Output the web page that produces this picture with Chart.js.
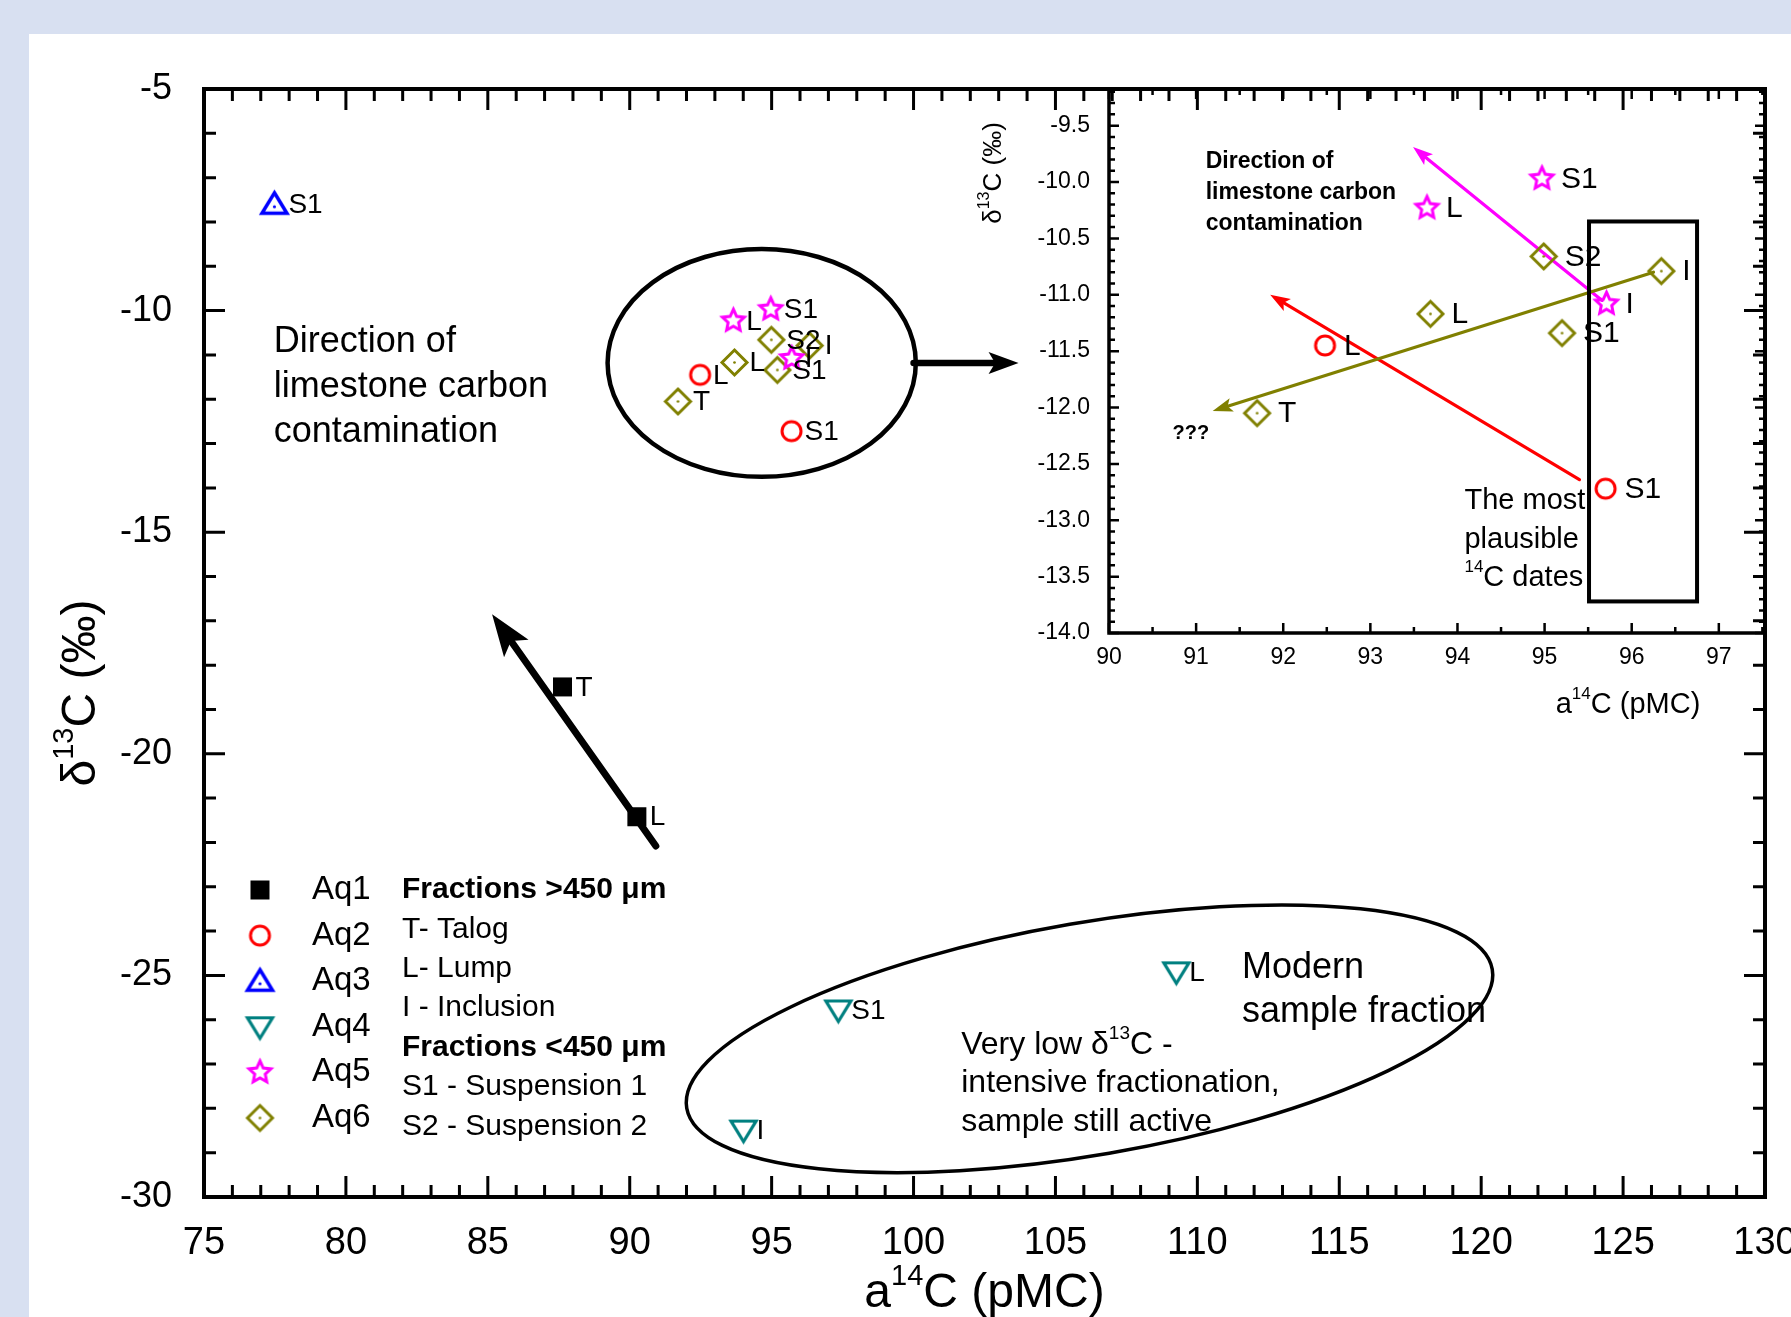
<!DOCTYPE html>
<html><head><meta charset="utf-8">
<script src="https://cdn.jsdelivr.net/npm/chart.js@4.4.0/dist/chart.umd.min.js"></script>
<style>
html,body{margin:0;padding:0;background:#d8e0f1;width:1791px;height:1317px;overflow:hidden;position:relative}
#panel{position:absolute;left:29px;top:34px;right:0;bottom:0;background:#fff}
#main{position:absolute;left:0;top:0}
#inset{position:absolute;left:900px;top:0}
</style></head><body>
<div id="panel"></div>
<canvas id="main" width="1791" height="1317" style="width:1791px;height:1317px"></canvas>
<canvas id="inset" width="891" height="760" style="width:891px;height:760px"></canvas>
<script>
// ---------------- DATA ----------------
const seriesNames = ['Aq1', 'Aq2', 'Aq3', 'Aq4', 'Aq5', 'Aq6'];
const seriesColors = ['#000000', '#ff0000', '#0000ff', '#008080', '#ff00ff', '#808000'];

const aq1X = [87.63, 90.25];                    const aq1Y = [-18.49, -21.42];                    const aq1Lab = ['T', 'L'];
const aq2X = [92.48, 95.70];                    const aq2Y = [-11.45, -12.72];                    const aq2Lab = ['L', 'S1'];
const aq3X = [77.48];                           const aq3Y = [-7.60];                             const aq3Lab = ['S1'];
const aq4X = [109.26, 97.35, 94.01];            const aq4Y = [-24.92, -25.78, -28.49];            const aq4Lab = ['L', 'S1', 'I'];
const aq5X = [94.97, 93.65, 95.71];             const aq5Y = [-9.97, -10.23, -11.08];             const aq5Lab = ['S1', 'L', 'I'];
const aq6X = [94.99, 96.34, 93.69, 95.20, 91.70]; const aq6Y = [-10.66, -10.79, -11.17, -11.34, -12.05]; const aq6Lab = ['S2', 'I', 'L', 'S1', 'T'];

const legendNotes = [
  ['Fractions >450 μm', true], ['T- Talog', false], ['L- Lump', false], ['I - Inclusion', false],
  ['Fractions <450 μm', true], ['S1 - Suspension 1', false], ['S2 - Suspension 2', false]
];

// axis ranges / tick steps
const mainX = [75, 130], mainY = [-30, -5], mainXStep = 5, mainYStep = 5, mainMinor = 1;
const insetX = [90, 97.53], insetY = [-14, -9.175], insetXStep = 1, insetYStep = 0.5;

// annotations (data coordinates)
const mainArrowAq1 = { from: [90.92, -22.08], to: [85.15, -16.85] };
const mainArrowZoom = { from: [100.0, -11.18], to: [103.7, -11.18] };
const clusterEllipse = { cx: 94.65, cy: -11.18, rx: 5.43, ry: 2.57 };
const modernEllipse = { cx: 106.2, cy: -26.43, rx: 14.4, ry: 2.62, rotDeg: -9.78 };
const insetArrowAq5 = { from: [95.66, -11.05], to: [93.49, -9.69] };
const insetArrowAq2 = { from: [95.40, -12.64], to: [91.85, -11.00] };
const insetArrowAq6 = { from: [96.25, -10.80], to: [91.19, -12.03] };
const plausibleBox = { x0: 95.51, x1: 96.75, y0: -10.35, y1: -13.72 };

const FAM = "'Liberation Sans', Arial, Helvetica, sans-serif";

// ---------------- helpers ----------------
function markerCanvas(kind, color, s, lw) {
  const pad = Math.ceil(lw) + 2;
  const size = Math.round(s + pad * 2);
  const c = document.createElement('canvas');
  c.width = size; c.height = size;
  const g = c.getContext('2d');
  g.translate(size / 2, size / 2);
  g.strokeStyle = color; g.fillStyle = color; g.lineWidth = lw; g.lineJoin = 'miter';
  const r = s / 2;
  const dot = () => { g.beginPath(); g.arc(0, 0, Math.max(1.2, lw * 0.45), 0, Math.PI * 2); g.fill(); };
  g.beginPath();
  if (kind === 'square') { g.fillRect(-r, -r, s, s); }
  else if (kind === 'circle') { g.arc(0, 0, r, 0, Math.PI * 2); g.stroke(); }
  else if (kind === 'triUp') {
    g.moveTo(0, -0.46 * s); g.lineTo(0.5 * s, 0.36 * s); g.lineTo(-0.5 * s, 0.36 * s); g.closePath(); g.stroke();
    g.beginPath(); g.arc(0, 0.1 * s, Math.max(1.2, lw * 0.45), 0, Math.PI * 2); g.fill();
  }
  else if (kind === 'triDown') {
    g.moveTo(0, 0.46 * s); g.lineTo(0.5 * s, -0.36 * s); g.lineTo(-0.5 * s, -0.36 * s); g.closePath(); g.stroke();
  }
  else if (kind === 'star') {
    for (let i = 0; i < 10; i++) {
      const rr = i % 2 === 0 ? r : r * 0.48;
      const a = -Math.PI / 2 + i * Math.PI / 5;
      const px = rr * Math.cos(a), py = rr * Math.sin(a);
      if (i === 0) g.moveTo(px, py); else g.lineTo(px, py);
    }
    g.closePath(); g.stroke();
  }
  else if (kind === 'diamond') {
    g.moveTo(0, -r); g.lineTo(r, 0); g.lineTo(0, r); g.lineTo(-r, 0); g.closePath(); g.stroke(); dot();
  }
  return c;
}

const markerSpec = [
  ['square', 19, 3], ['circle', 19, 3], ['triUp', 25, 3.5], ['triDown', 25, 3.2], ['star', 23, 3], ['diamond', 25, 3]
];
const markers = markerSpec.map((m, i) => markerCanvas(m[0], seriesColors[i], m[1], m[2]));

function drawRich(ctx, parts, x, y, size, align, bold) {
  const w = bold ? 'bold ' : '';
  const fonts = parts.map(p => w + (p[1] ? Math.round(size * 0.6) : size) + 'px ' + FAM);
  const widths = parts.map((p, i) => { ctx.font = fonts[i]; return ctx.measureText(p[0]).width; });
  const total = widths.reduce((a, b) => a + b, 0);
  let cx = align === 'center' ? x - total / 2 : (align === 'right' ? x - total : x);
  ctx.textAlign = 'left'; ctx.textBaseline = 'middle'; ctx.fillStyle = '#000';
  parts.forEach((p, i) => {
    ctx.font = fonts[i];
    ctx.fillText(p[0], cx, p[1] ? y - size * 0.36 : y);
    cx += widths[i];
  });
}

function arrow(ctx, x1, y1, x2, y2, color, lw, hl, hw) {
  const a = Math.atan2(y2 - y1, x2 - x1);
  const ca = Math.cos(a), sa = Math.sin(a);
  const bx = x2 - hl * ca, by = y2 - hl * sa;
  ctx.save();
  ctx.strokeStyle = color; ctx.fillStyle = color; ctx.lineWidth = lw; ctx.lineCap = 'round';
  ctx.beginPath(); ctx.moveTo(x1, y1); ctx.lineTo(x2 - hl * 0.7 * ca, y2 - hl * 0.7 * sa); ctx.stroke();
  ctx.beginPath(); ctx.moveTo(x2, y2);
  ctx.lineTo(bx + hw * sa, by - hw * ca);
  ctx.lineTo(x2 - hl * 0.78 * ca, y2 - hl * 0.78 * sa);
  ctx.lineTo(bx - hw * sa, by + hw * ca);
  ctx.closePath(); ctx.fill();
  ctx.restore();
}

function toData(arrX, arrY) { return arrX.map((x, i) => ({ x: x, y: arrY[i] })); }

function tickFramePlugin(cfg) {
  return {
    id: 'tickframe_' + cfg.name,
    afterDraw(chart) {
      const ctx = chart.ctx, ca = chart.chartArea, xs = chart.scales.x, ys = chart.scales.y;
      ctx.save();
      ctx.strokeStyle = '#000'; ctx.lineCap = 'butt';
      ctx.lineWidth = cfg.tickW;
      const isMult = (v, st) => Math.abs(v / st - Math.round(v / st)) < 1e-6;
      for (let k = Math.ceil(xs.min / cfg.xMinor - 1e-9); k * cfg.xMinor <= xs.max + 1e-9; k++) {
        const v = k * cfg.xMinor, px = xs.getPixelForValue(v);
        const len = isMult(v, cfg.xMajor) ? cfg.majLen : cfg.minLen;
        ctx.beginPath();
        ctx.moveTo(px, ca.bottom); ctx.lineTo(px, ca.bottom - len);
        ctx.moveTo(px, ca.top); ctx.lineTo(px, ca.top + len);
        ctx.stroke();
      }
      for (let k = Math.ceil(ys.min / cfg.yMinor - 1e-9); k * cfg.yMinor <= ys.max + 1e-9; k++) {
        const v = k * cfg.yMinor, py = ys.getPixelForValue(v);
        const len = isMult(v, cfg.yMajor) ? cfg.majLen : cfg.minLen;
        ctx.beginPath();
        ctx.moveTo(ca.left, py); ctx.lineTo(ca.left + len, py);
        ctx.moveTo(ca.right, py); ctx.lineTo(ca.right - len, py);
        ctx.stroke();
      }
      ctx.lineWidth = cfg.frameW;
      ctx.strokeRect(ca.left, ca.top, ca.right - ca.left, ca.bottom - ca.top);
      ctx.restore();
    }
  };
}

function pointLabelPlugin(name, size) {
  return {
    id: 'plabels_' + name,
    afterDatasetsDraw(chart) {
      const ctx = chart.ctx;
      ctx.save();
      ctx.fillStyle = '#000'; ctx.font = size + 'px ' + FAM;
      ctx.textAlign = 'left'; ctx.textBaseline = 'middle';
      chart.data.datasets.forEach((ds, di) => {
        const meta = chart.getDatasetMeta(di);
        meta.data.forEach((el, i) => {
          if (ds.pointLabels && ds.pointLabels[i]) ctx.fillText(ds.pointLabels[i], el.x + ds.labelGap, el.y + 1);
        });
      });
      ctx.restore();
    }
  };
}

function makeDataset(i, xs, ys, labs, gap) {
  return {
    label: seriesNames[i], data: toData(xs, ys), pointStyle: markers[i], pointRadius: 11,
    showLine: false, pointLabels: labs, labelGap: gap,
    borderColor: seriesColors[i], backgroundColor: seriesColors[i]
  };
}

// ---------------- MAIN CHART ----------------
const mainAnno = {
  id: 'mainAnno',
  beforeDatasetsDraw(chart) {
    const ctx = chart.ctx, xs = chart.scales.x, ys = chart.scales.y;
    const X = v => xs.getPixelForValue(v), Y = v => ys.getPixelForValue(v);
    const pxX = Math.abs(X(1) - X(0)), pxY = Math.abs(Y(1) - Y(0));
    ctx.save();
    ctx.strokeStyle = '#000';
    ctx.lineWidth = 4.5;
    ctx.beginPath();
    ctx.ellipse(X(clusterEllipse.cx), Y(clusterEllipse.cy), clusterEllipse.rx * pxX, clusterEllipse.ry * pxY, 0, 0, Math.PI * 2);
    ctx.stroke();
    ctx.lineWidth = 3.5;
    ctx.beginPath();
    ctx.ellipse(X(modernEllipse.cx), Y(modernEllipse.cy), modernEllipse.rx * pxX, modernEllipse.ry * pxY,
      modernEllipse.rotDeg * Math.PI / 180, 0, Math.PI * 2);
    ctx.stroke();
    ctx.restore();
    arrow(ctx, X(mainArrowAq1.from[0]), Y(mainArrowAq1.from[1]), X(mainArrowAq1.to[0]), Y(mainArrowAq1.to[1]), '#000', 7, 42, 15);
    arrow(ctx, X(mainArrowZoom.from[0]), Y(mainArrowZoom.from[1]), X(mainArrowZoom.to[0]), Y(mainArrowZoom.to[1]), '#000', 6.5, 30, 11);
  },
  afterDraw(chart) {
    const ctx = chart.ctx, xs = chart.scales.x, ys = chart.scales.y, ca = chart.chartArea;
    const X = v => xs.getPixelForValue(v), Y = v => ys.getPixelForValue(v);
    ctx.save();
    const blocks = [
      { x: 77.46, y: -10.72, size: 36, lh: 45, lines: [[['Direction of']], [['limestone carbon']], [['contamination']]] },
      { x: 111.57, y: -24.83, size: 36, lh: 44, lines: [[['Modern']], [['sample fraction']]] },
      { x: 101.68, y: -26.57, size: 32, lh: 38.5, lines: [[['Very low δ'], ['13', 1], ['C -']], [['intensive fractionation,']], [['sample still active']]] }
    ];
    blocks.forEach(b => b.lines.forEach((ln, i) => drawRich(ctx, ln, X(b.x), Y(b.y) + i * b.lh, b.size, 'left', false)));
    drawRich(ctx, [['a'], ['14', 1], ['C (pMC)']], (ca.left + ca.right) / 2, ca.bottom + 97, 48, 'center', false);
    ctx.save();
    ctx.translate(ca.left - 122, (ca.top + ca.bottom) / 2 + 50);
    ctx.rotate(-Math.PI / 2);
    drawRich(ctx, [['δ'], ['13', 1], ['C (‰)']], 0, 0, 48, 'center', false);
    ctx.restore();
    const lx = ca.left + 56, ly = ca.top + 801, rowH = 45.6;
    seriesNames.forEach((n, i) => {
      const m = markers[i];
      ctx.drawImage(m, lx - m.width / 2, ly + i * rowH - m.height / 2);
      drawRich(ctx, [[n]], lx + 52, ly + i * rowH, 33, 'left', false);
    });
    const nx = ca.left + 198, nh = 39.4;
    legendNotes.forEach((nt, i) => drawRich(ctx, [[nt[0]]], nx, ly + i * nh, 30, 'left', nt[1]));
    ctx.restore();
  }
};

new Chart(document.getElementById('main'), {
  type: 'scatter',
  data: {
    datasets: [
      makeDataset(0, aq1X, aq1Y, aq1Lab, 13),
      makeDataset(1, aq2X, aq2Y, aq2Lab, 13),
      makeDataset(2, aq3X, aq3Y, aq3Lab, 14),
      makeDataset(3, aq4X, aq4Y, aq4Lab, 13),
      makeDataset(4, aq5X, aq5Y, aq5Lab, 13),
      makeDataset(5, aq6X, aq6Y, aq6Lab, 15)
    ]
  },
  options: {
    responsive: false, animation: false, devicePixelRatio: 1,
    layout: { padding: { left: 0, top: 89, right: 26, bottom: 0 } },
    plugins: { legend: { display: false }, tooltip: { enabled: false } },
    scales: {
      x: {
        type: 'linear', min: mainX[0], max: mainX[1],
        afterFit(s) { s.height = 120; s.paddingLeft = 0; s.paddingRight = 0; },
        ticks: { stepSize: mainXStep, includeBounds: false, padding: 16, font: { family: FAM, size: 38 }, color: '#000', maxRotation: 0, autoSkip: false },
        grid: { display: false }, border: { display: false }
      },
      y: {
        type: 'linear', min: mainY[0], max: mainY[1],
        afterFit(s) { s.width = 204; s.paddingTop = 0; s.paddingBottom = 0; },
        ticks: { stepSize: mainYStep, includeBounds: false, padding: 24, font: { family: FAM, size: 36 }, color: '#000', autoSkip: false },
        grid: { display: false }, border: { display: false }
      }
    }
  },
  plugins: [mainAnno, pointLabelPlugin('main', 28),
    tickFramePlugin({ name: 'main', xMinor: mainMinor, xMajor: mainXStep, yMinor: mainMinor, yMajor: mainYStep, majLen: 21, minLen: 12, tickW: 3, frameW: 4 })]
});

// ---------------- INSET CHART ----------------
const insetAnno = {
  id: 'insetAnno',
  beforeDatasetsDraw(chart) {
    const ctx = chart.ctx, xs = chart.scales.x, ys = chart.scales.y;
    const X = v => xs.getPixelForValue(v), Y = v => ys.getPixelForValue(v);
    [[insetArrowAq5, '#ff00ff'], [insetArrowAq2, '#ff0000'], [insetArrowAq6, '#808000']].forEach(a => {
      arrow(ctx, X(a[0].from[0]), Y(a[0].from[1]), X(a[0].to[0]), Y(a[0].to[1]), a[1], 3.2, 20, 7);
    });
    ctx.save();
    ctx.strokeStyle = '#000'; ctx.lineWidth = 4;
    ctx.strokeRect(X(plausibleBox.x0), Y(plausibleBox.y0), X(plausibleBox.x1) - X(plausibleBox.x0), Y(plausibleBox.y1) - Y(plausibleBox.y0));
    ctx.restore();
  },
  afterDraw(chart) {
    const ctx = chart.ctx, xs = chart.scales.x, ys = chart.scales.y, ca = chart.chartArea;
    const X = v => xs.getPixelForValue(v), Y = v => ys.getPixelForValue(v);
    ctx.save();
    const blocks = [
      { x: 91.11, y: -9.82, size: 23, lh: 31, bold: true, lines: [[['Direction of']], [['limestone carbon']], [['contamination']]] },
      { x: 90.73, y: -12.23, size: 20, lh: 30, bold: true, lines: [[['???']]] },
      { x: 94.08, y: -12.83, size: 29, lh: 38.5, bold: false, lines: [[['The most']], [['plausible']], [['14', 1], ['C dates']]] }
    ];
    blocks.forEach(b => b.lines.forEach((ln, i) => drawRich(ctx, ln, X(b.x), Y(b.y) + i * b.lh, b.size, 'left', b.bold)));
    drawRich(ctx, [['a'], ['14', 1], ['C (pMC)']], ca.right - 137, ca.bottom + 72, 29, 'center', false);
    ctx.save();
    ctx.translate(ca.left - 115, ca.top + 84);
    ctx.rotate(-Math.PI / 2);
    drawRich(ctx, [['δ'], ['13', 1], ['C (‰)']], 0, 0, 26, 'center', false);
    ctx.restore();
    ctx.restore();
  }
};

new Chart(document.getElementById('inset'), {
  type: 'scatter',
  data: {
    datasets: [
      makeDataset(1, aq2X, aq2Y, aq2Lab, 19),
      makeDataset(4, aq5X, aq5Y, aq5Lab, 19),
      makeDataset(5, aq6X, aq6Y, aq6Lab, 21)
    ]
  },
  options: {
    responsive: false, animation: false, devicePixelRatio: 1,
    layout: { padding: { left: 0, top: 89, right: 26, bottom: 0 } },
    plugins: { legend: { display: false }, tooltip: { enabled: false } },
    scales: {
      x: {
        type: 'linear', min: insetX[0], max: insetX[1],
        afterFit(s) { s.height = 127; s.paddingLeft = 0; s.paddingRight = 0; },
        ticks: { stepSize: insetXStep, includeBounds: false, padding: 3, font: { family: FAM, size: 23 }, color: '#000', maxRotation: 0, autoSkip: false },
        grid: { display: false }, border: { display: false }
      },
      y: {
        type: 'linear', min: insetY[0], max: insetY[1],
        afterFit(s) { s.width = 209; s.paddingTop = 0; s.paddingBottom = 0; },
        ticks: { stepSize: insetYStep, includeBounds: false, padding: 11, font: { family: FAM, size: 23 }, color: '#000', autoSkip: false,
          callback: v => v.toFixed(1) },
        grid: { display: false }, border: { display: false }
      }
    }
  },
  plugins: [insetAnno, pointLabelPlugin('inset', 30),
    tickFramePlugin({ name: 'inset', xMinor: 0.5, xMajor: 1, yMinor: 0.1, yMajor: 0.5, majLen: 10, minLen: 6, tickW: 2.5, frameW: 3.5 })]
});
</script>
</body></html>
